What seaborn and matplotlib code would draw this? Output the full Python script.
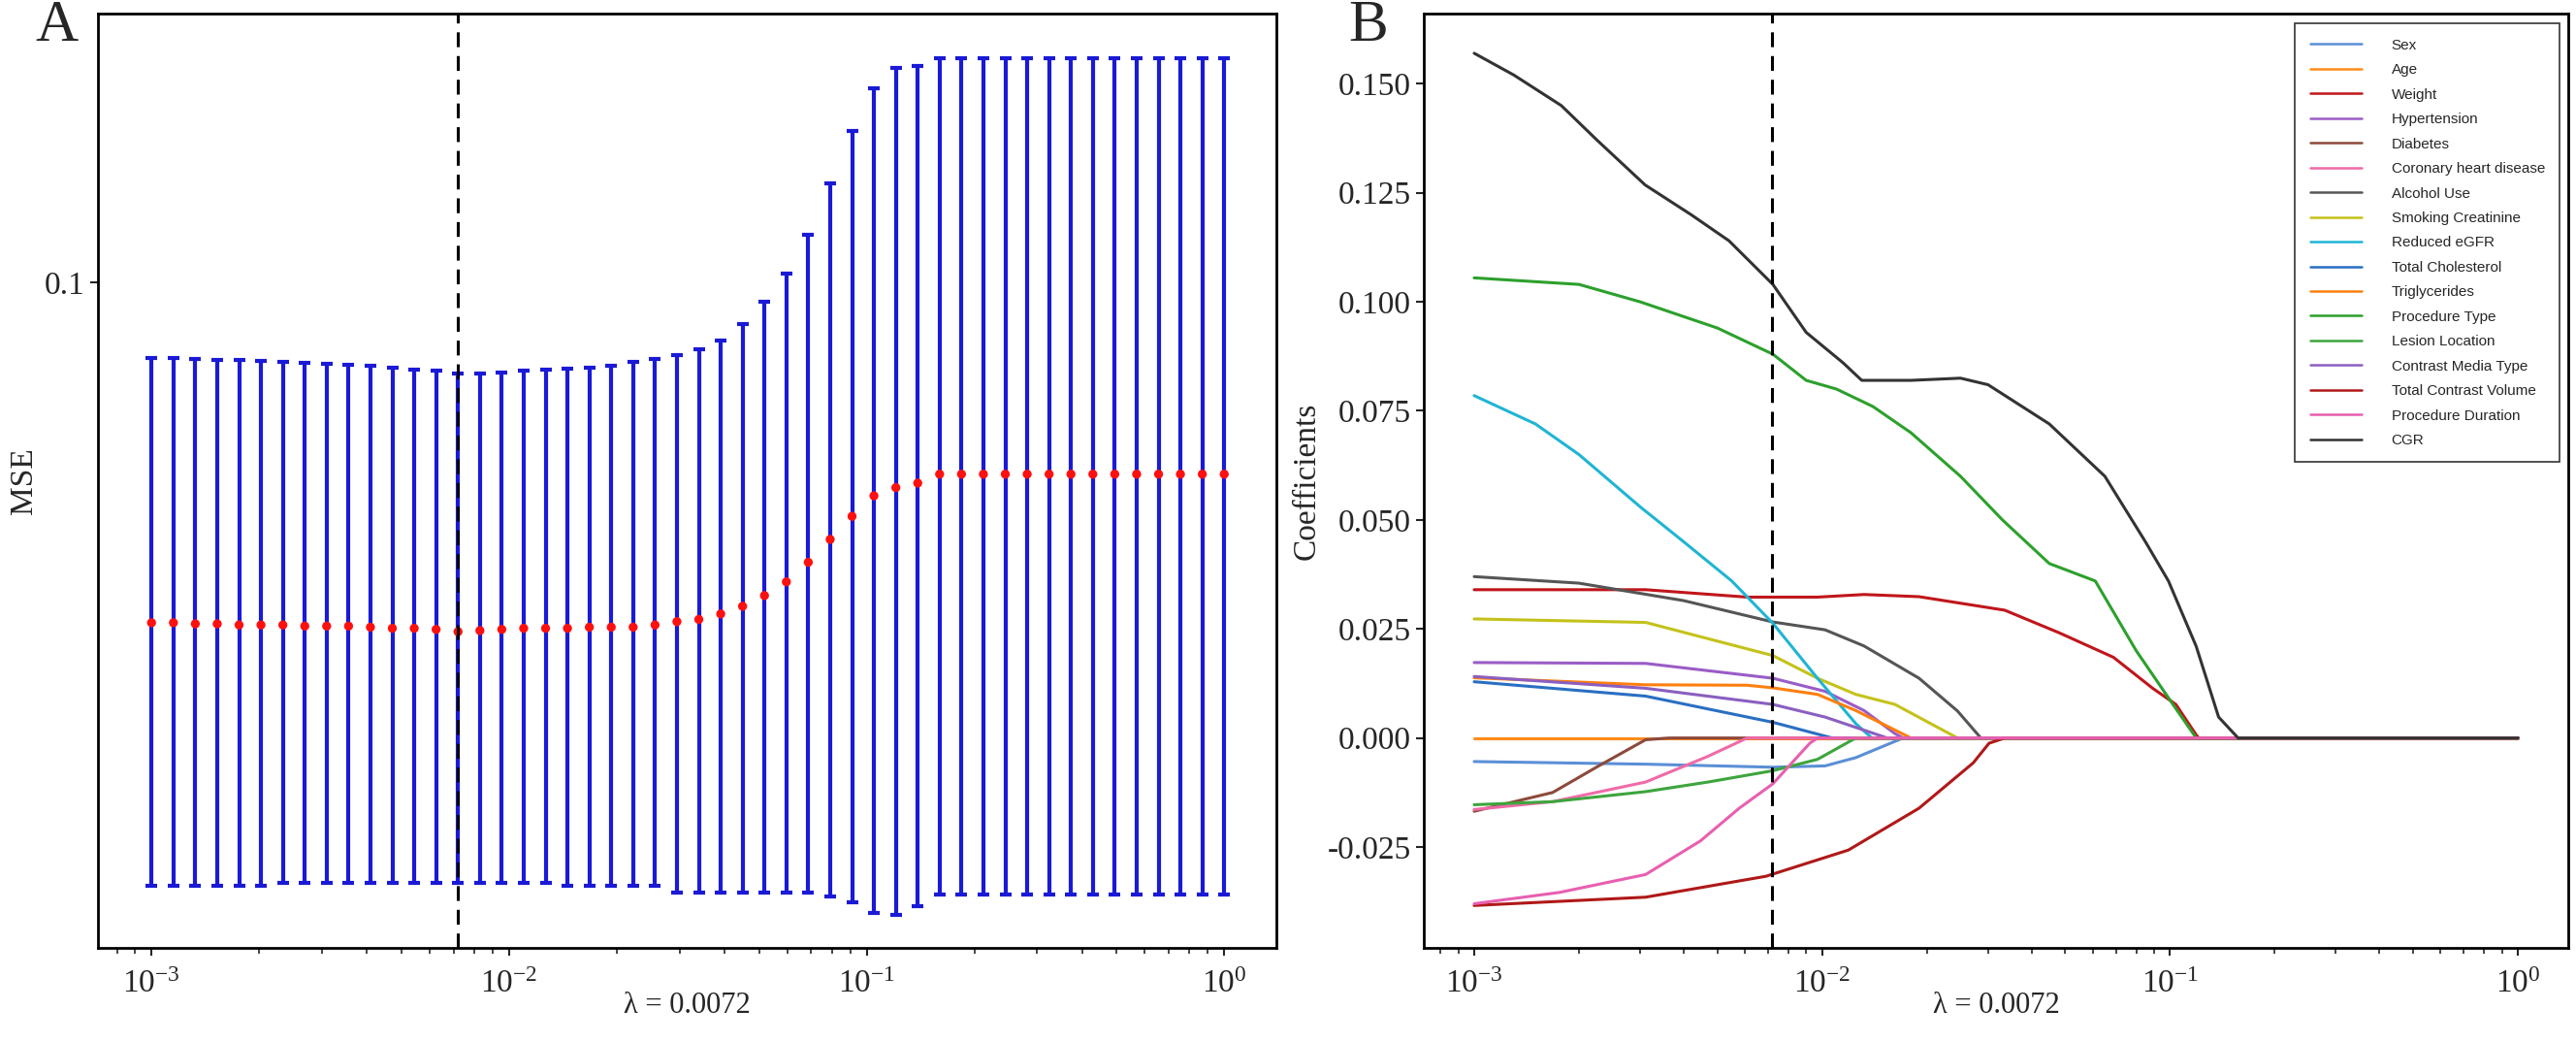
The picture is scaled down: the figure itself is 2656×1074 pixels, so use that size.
import numpy as np
import matplotlib.pyplot as plt
import matplotlib.ticker as mticker
import seaborn as sns

sns.set_style("white")
plt.rcParams["font.family"] = ["Liberation Serif", "DejaVu Serif"]
plt.rcParams["axes.unicode_minus"] = False
plt.rcParams["mathtext.fontset"] = "stix"

# ---------------------------------------------------------------------------
# Panel A: cross-validated MSE along the lambda path (50 lambdas)
# ---------------------------------------------------------------------------
lambdas = np.logspace(-3, 0, 50)
lambda_min = 0.0072

mse_mean = [0.0600, 0.0600, 0.0599, 0.0599, 0.0598, 0.0598, 0.0598, 0.0597, 0.0597, 0.0597,
            0.0596, 0.0595, 0.0595, 0.0594, 0.0592, 0.0593, 0.0594, 0.0595, 0.0595, 0.0595,
            0.0596, 0.0596, 0.0596, 0.0598, 0.0601, 0.0603, 0.0608, 0.0615, 0.0625, 0.0638,
            0.0657, 0.0680, 0.0704, 0.0726, 0.0735, 0.0740, 0.0750, 0.0750, 0.0750, 0.0750,
            0.0750, 0.0750, 0.0750, 0.0750, 0.0750, 0.0750, 0.0750, 0.0750, 0.0750, 0.0750]
mse_upper = [0.0893, 0.0893, 0.0892, 0.0891, 0.0890, 0.0889, 0.0888, 0.0887, 0.0885, 0.0884,
             0.0882, 0.0880, 0.0878, 0.0876, 0.0872, 0.0873, 0.0874, 0.0876, 0.0877, 0.0879,
             0.0880, 0.0883, 0.0888, 0.0892, 0.0897, 0.0905, 0.0917, 0.0940, 0.0972, 0.1013,
             0.1074, 0.1161, 0.1255, 0.1339, 0.1381, 0.1385, 0.1400, 0.1400, 0.1400, 0.1400,
             0.1400, 0.1400, 0.1400, 0.1400, 0.1400, 0.1400, 0.1400, 0.1400, 0.1400, 0.1400]
mse_lower = [0.0404, 0.0404, 0.0404, 0.0404, 0.0404, 0.0404, 0.0406, 0.0406, 0.0406, 0.0406,
             0.0406, 0.0406, 0.0406, 0.0406, 0.0406, 0.0406, 0.0406, 0.0406, 0.0406, 0.0404,
             0.0404, 0.0404, 0.0404, 0.0404, 0.0400, 0.0400, 0.0400, 0.0400, 0.0400, 0.0400,
             0.0400, 0.0398, 0.0394, 0.0388, 0.0387, 0.0392, 0.0399, 0.0399, 0.0399, 0.0399,
             0.0399, 0.0399, 0.0399, 0.0399, 0.0399, 0.0399, 0.0399, 0.0399, 0.0399, 0.0399]

# ---------------------------------------------------------------------------
# Panel B: lasso coefficient paths (label, colour, lambdas, coefficients)
# ---------------------------------------------------------------------------
paths = [
    ("Sex", "#5b8fd6",
     [0.001, 0.00311, 0.00722, 0.0102, 0.0125, 0.0171, 1.0],
     [-0.0054, -0.0060, -0.0067, -0.0064, -0.0045, 0.0, 0.0]),
    ("Age", "#ff8c1a",
     [0.001, 1.0],
     [0.0, 0.0]),
    ("Weight", "#c0161b",
     [0.001, 0.00311, 0.00609, 0.00970, 0.0132, 0.0190, 0.0335, 0.0481, 0.0688, 0.0892, 0.104, 0.119, 0.121, 1.0],
     [0.0340, 0.0340, 0.0323, 0.0323, 0.0329, 0.0324, 0.0293, 0.0241, 0.0185, 0.0114, 0.0077, 0.0007, 0.0, 0.0]),
    ("Hypertension", "#9a5cc6",
     [0.001, 0.00311, 0.00722, 0.0102, 0.0132, 0.0162, 0.0171, 1.0],
     [0.0173, 0.0171, 0.0137, 0.0107, 0.0063, 0.0010, 0.0, 0.0]),
    ("Diabetes", "#8c4a3c",
     [0.001, 0.00168, 0.00228, 0.00311, 0.00363, 1.0],
     [-0.0168, -0.0125, -0.0064, -0.0004, 0.0, 0.0]),
    ("Coronary heart disease", "#f06aa8",
     [0.001, 0.00168, 0.00311, 0.00470, 0.00609, 1.0],
     [-0.0164, -0.0146, -0.0101, -0.0042, 0.0, 0.0]),
    ("Alcohol Use", "#555555",
     [0.001, 0.002, 0.004, 0.00722, 0.0102, 0.0132, 0.0190, 0.0245, 0.0286, 1.0],
     [0.0370, 0.0355, 0.0315, 0.0266, 0.0248, 0.0211, 0.0137, 0.0062, 0.0, 0.0]),
    ("Smoking Creatinine", "#c4c21a",
     [0.001, 0.00311, 0.00722, 0.00970, 0.0125, 0.0162, 0.0245, 1.0],
     [0.0273, 0.0265, 0.0189, 0.0137, 0.0100, 0.0077, 0.0, 0.0]),
    ("Reduced eGFR", "#1fb5d4",
     [0.001, 0.0015, 0.002, 0.003, 0.004, 0.0055, 0.00722, 0.00970, 0.0125, 0.0139, 1.0],
     [0.0785, 0.0720, 0.0650, 0.0530, 0.0450, 0.0360, 0.0263, 0.0137, 0.0033, 0.0, 0.0]),
    ("Total Cholesterol", "#2a6fc2",
     [0.001, 0.00311, 0.00722, 0.0107, 1.0],
     [0.0129, 0.0096, 0.0036, 0.0, 0.0]),
    ("Triglycerides", "#ff7f0e",
     [0.001, 0.00311, 0.00609, 0.00722, 0.00970, 0.0125, 0.0180, 1.0],
     [0.0138, 0.0122, 0.0121, 0.0115, 0.0100, 0.0063, 0.0, 0.0]),
    ("Procedure Type", "#2ca02c",
     [0.001, 0.002, 0.003, 0.005, 0.00722, 0.009, 0.011, 0.014, 0.018, 0.025, 0.033, 0.045,
      0.061, 0.080, 0.102, 0.119, 1.0],
     [0.1055, 0.1040, 0.1000, 0.0940, 0.0880, 0.0820, 0.0800, 0.0760, 0.0700, 0.0600, 0.0500,
      0.0400, 0.0360, 0.0200, 0.0077, 0.0, 0.0]),
    ("Lesion Location", "#3da53d",
     [0.001, 0.00168, 0.00311, 0.00470, 0.00722, 0.00970, 0.0125, 1.0],
     [-0.0153, -0.0146, -0.0123, -0.0101, -0.0075, -0.0049, 0.0, 0.0]),
    ("Contrast Media Type", "#8b5fc0",
     [0.001, 0.00311, 0.00722, 0.0102, 0.0154, 1.0],
     [0.0141, 0.0114, 0.0077, 0.0048, 0.0, 0.0]),
    ("Total Contrast Volume", "#b01818",
     [0.001, 0.00311, 0.00690, 0.0119, 0.0190, 0.0272, 0.0302, 0.0335, 1.0],
     [-0.0384, -0.0365, -0.0317, -0.0257, -0.0161, -0.0057, -0.0012, 0.0, 0.0]),
    ("Procedure Duration", "#e85fb0",
     [0.001, 0.00176, 0.00311, 0.00447, 0.00578, 0.00722, 0.00922, 0.00970, 1.0],
     [-0.0380, -0.0354, -0.0313, -0.0236, -0.0161, -0.0105, -0.0012, 0.0, 0.0]),
    ("CGR", "#333333",
     [0.001, 0.0013, 0.00178, 0.00226, 0.0031, 0.0042, 0.0054, 0.00722, 0.009, 0.0115, 0.013,
      0.018, 0.025, 0.030, 0.045, 0.065, 0.085, 0.099, 0.119, 0.138, 0.157, 1.0],
     [0.1570, 0.1520, 0.1450, 0.1370, 0.1268, 0.1200, 0.1140, 0.1040, 0.0930, 0.0860, 0.0820,
      0.0820, 0.0825, 0.0810, 0.0720, 0.0600, 0.0450, 0.0360, 0.0210, 0.0048, 0.0, 0.0]),
]

fig = plt.figure(figsize=(26.56, 10.74), dpi=100)
axA = fig.add_axes([0.038, 0.090, 0.4575, 0.897])
axB = fig.add_axes([0.5527, 0.090, 0.4443, 0.897])

# --- Panel A ---
mean = np.array(mse_mean)
yerr = [mean - np.array(mse_lower), np.array(mse_upper) - mean]
axA.errorbar(lambdas, mean, yerr=yerr, fmt="none", ecolor="#1a1ad6",
             elinewidth=3, capsize=4, capthick=3, zorder=2)
sns.scatterplot(x=lambdas, y=mean, ax=axA, color="#ff1010", s=45,
                edgecolor="none", zorder=3)
axA.set_xscale("log")
axA.set_yscale("log")
axA.set_xlim(10 ** -3.15, 10 ** 0.146)
axA.set_ylim(0.0368, 0.1498)
axA.yaxis.set_major_locator(mticker.FixedLocator([0.1]))
axA.yaxis.set_major_formatter(mticker.FixedFormatter(["0.1"]))
axA.yaxis.set_minor_locator(mticker.NullLocator())
axA.set_ylabel("MSE", fontsize=24)

# --- Panel B ---
for label, color, lam, coef in paths:
    sns.lineplot(x=lam, y=coef, ax=axB, color=color, lw=2.2, label=label,
                 sort=False, estimator=None)
axB.set_xscale("log")
axB.set_xlim(10 ** -3.145, 10 ** 0.145)
axB.set_ylim(-0.0482, 0.1661)
axB.yaxis.set_major_locator(mticker.FixedLocator([-0.025, 0, 0.025, 0.05, 0.075, 0.1, 0.125, 0.15]))
axB.yaxis.set_major_formatter(mticker.FormatStrFormatter("%.3f"))
axB.set_ylabel("Coefficients", fontsize=24)
leg = axB.legend(loc="upper right", fontsize=11, frameon=True, fancybox=False,
                 edgecolor="black", handlelength=3.5, labelspacing=0.75,
                 handletextpad=2.0, borderpad=1.0, bbox_to_anchor=(0.999, 0.997),
                 prop={"family": ["Liberation Sans", "DejaVu Sans"], "size": 11})
leg.get_frame().set_linewidth(1.2)
for line in leg.get_lines():
    line.set_linewidth(1.8)

for ax in (axA, axB):
    ax.axvline(lambda_min, color="black", ls=(0, (5, 3)), lw=2.2, zorder=4)
    ax.set_xlabel("λ = 0.0072", fontsize=22, labelpad=-6)
    ax.tick_params(axis="both", which="major", labelsize=24, direction="out",
                   length=6, width=1.5, left=True, bottom=True)
    ax.tick_params(axis="x", which="minor", direction="out", length=4, width=1.2, bottom=True)
    ax.tick_params(axis="x", which="major", pad=10)
    for sp in ax.spines.values():
        sp.set_color("black")
        sp.set_linewidth(2)

fig.text(0.022, 0.975, "A", fontsize=44, ha="center", va="center")
fig.text(0.531, 0.975, "B", fontsize=44, ha="center", va="center")

fig.savefig("out.png", dpi=100)
